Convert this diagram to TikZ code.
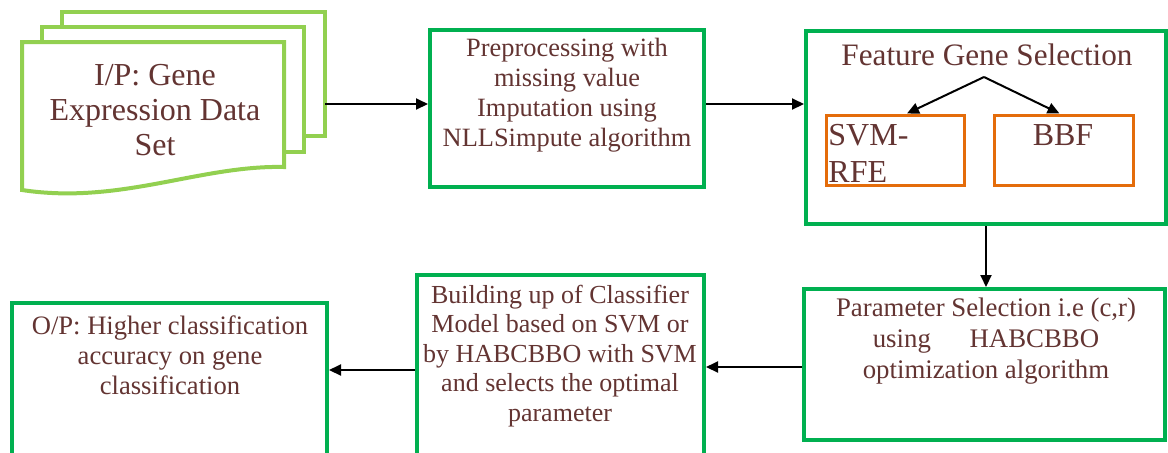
\documentclass[tikz,border=0pt]{standalone}
\usepackage{fontspec}
\setmainfont{Liberation Serif}
\usetikzlibrary{arrows.meta}
\definecolor{boxgreen}{RGB}{0,176,80}
\definecolor{docgreen}{RGB}{146,208,80}
\definecolor{boxorange}{RGB}{228,108,10}
\definecolor{txtc}{RGB}{99,52,50}
\tikzset{
  gbox/.style={draw=boxgreen, line width=2pt, fill=white, inner sep=0pt, rectangle},
  obox/.style={draw=boxorange, line width=1.5pt, inner sep=0pt, rectangle},
  docpage/.style={draw=docgreen, line width=2pt, fill=white, line join=miter},
  txt/.style={text=txtc, align=center, inner sep=0pt},
  midfont/.style={font=\fontsize{13.2}{15}\selectfont},
  arr/.style={-{Triangle[length=6pt,width=5.5pt]}, line width=1pt, black}
}
\begin{document}
\begin{tikzpicture}[x=0.5pt,y=-0.5pt]
\useasboundingbox (0,0) rectangle (1168,452);
\clip (0,0) rectangle (1168,452);
% input document stack
\draw[docpage] (62,12) rectangle (325,136);
\draw[docpage] (42,27) rectangle (304,152);
\draw[docpage] (22,42) -- (284,42) -- (284,167) .. controls (200,165) and (120,205) .. (22,190) -- cycle;
\node[txt, font=\fontsize{16}{17.5}\selectfont] (doc) at (155,110) {I/P: Gene\\Expression Data\\Set};
\coordinate (docout) at (325,104);
% preprocessing
\node[gbox, minimum width=137pt, minimum height=78.5pt] (pre) at (567,108.5) {};
\node[txt, midfont] (pretext) at (567,95) {Preprocessing with\\missing value\\Imputation using\\NLLSimpute algorithm};
% feature selection
\node[gbox, minimum width=180pt, minimum height=96.5pt] (feat) at (986,127.5) {};
\node[txt, font=\fontsize{15.6}{17}\selectfont] (feattitle) at (987,55) {Feature Gene Selection};
\coordinate (fork) at (984,77);
\node[obox, minimum width=69pt, minimum height=35pt] (svm) at (895,150) {};
\node[obox, minimum width=69.5pt, minimum height=35pt] (bbf) at (1063.5,150) {};
\node[txt, align=left, anchor=west, font=\fontsize{16}{18.5}\selectfont] (svmtext) at (828,153.5) {SVM-\\RFE};
\node[txt, font=\fontsize{16}{18.5}\selectfont] (bbftext) at (1063,135) {BBF};
% parameter selection
\node[gbox, minimum width=180.5pt, minimum height=75.5pt] (param) at (984.5,364.5) {};
\node[txt, font=\fontsize{13.4}{15.5}\selectfont] (paramtext) at (986,341) {Parameter Selection i.e (c,r)\\using\hspace{16pt} HABCBBO\\optimization algorithm};
% building classifier
\node[gbox, minimum width=143.5pt, minimum height=97.5pt] (build) at (560.5,372.5) {};
\node[txt, font=\fontsize{13}{14.75}\selectfont] (buildtext) at (560,356) {Building up of Classifier\\Model based on SVM or\\by HABCBBO with SVM\\and selects the optimal\\parameter};
% output
\node[gbox, minimum width=157.5pt, minimum height=83.5pt] (op) at (169.5,386.5) {};
\node[txt, font=\fontsize{13.3}{15}\selectfont] (optext) at (170,355) {O/P: Higher classification\\accuracy on gene\\classification};
% connectors
\coordinate (pb) at (804,367);
\coordinate (bo) at (417,370);
\draw[arr] (docout) -- (docout -| pre.west);
\draw[arr] (pre.east |- docout) -- (feat.west |- docout);
\draw[arr] (fork) -- ([xshift=6pt]svm.north);
\draw[arr] (fork) -- ([xshift=-2pt]bbf.north);
\draw[arr] (feat.south) -- (feat.south |- param.north);
\draw[arr] (param.west |- pb) -- (build.east |- pb);
\draw[arr] (build.west |- bo) -- (op.east |- bo);
\end{tikzpicture}
\end{document}
